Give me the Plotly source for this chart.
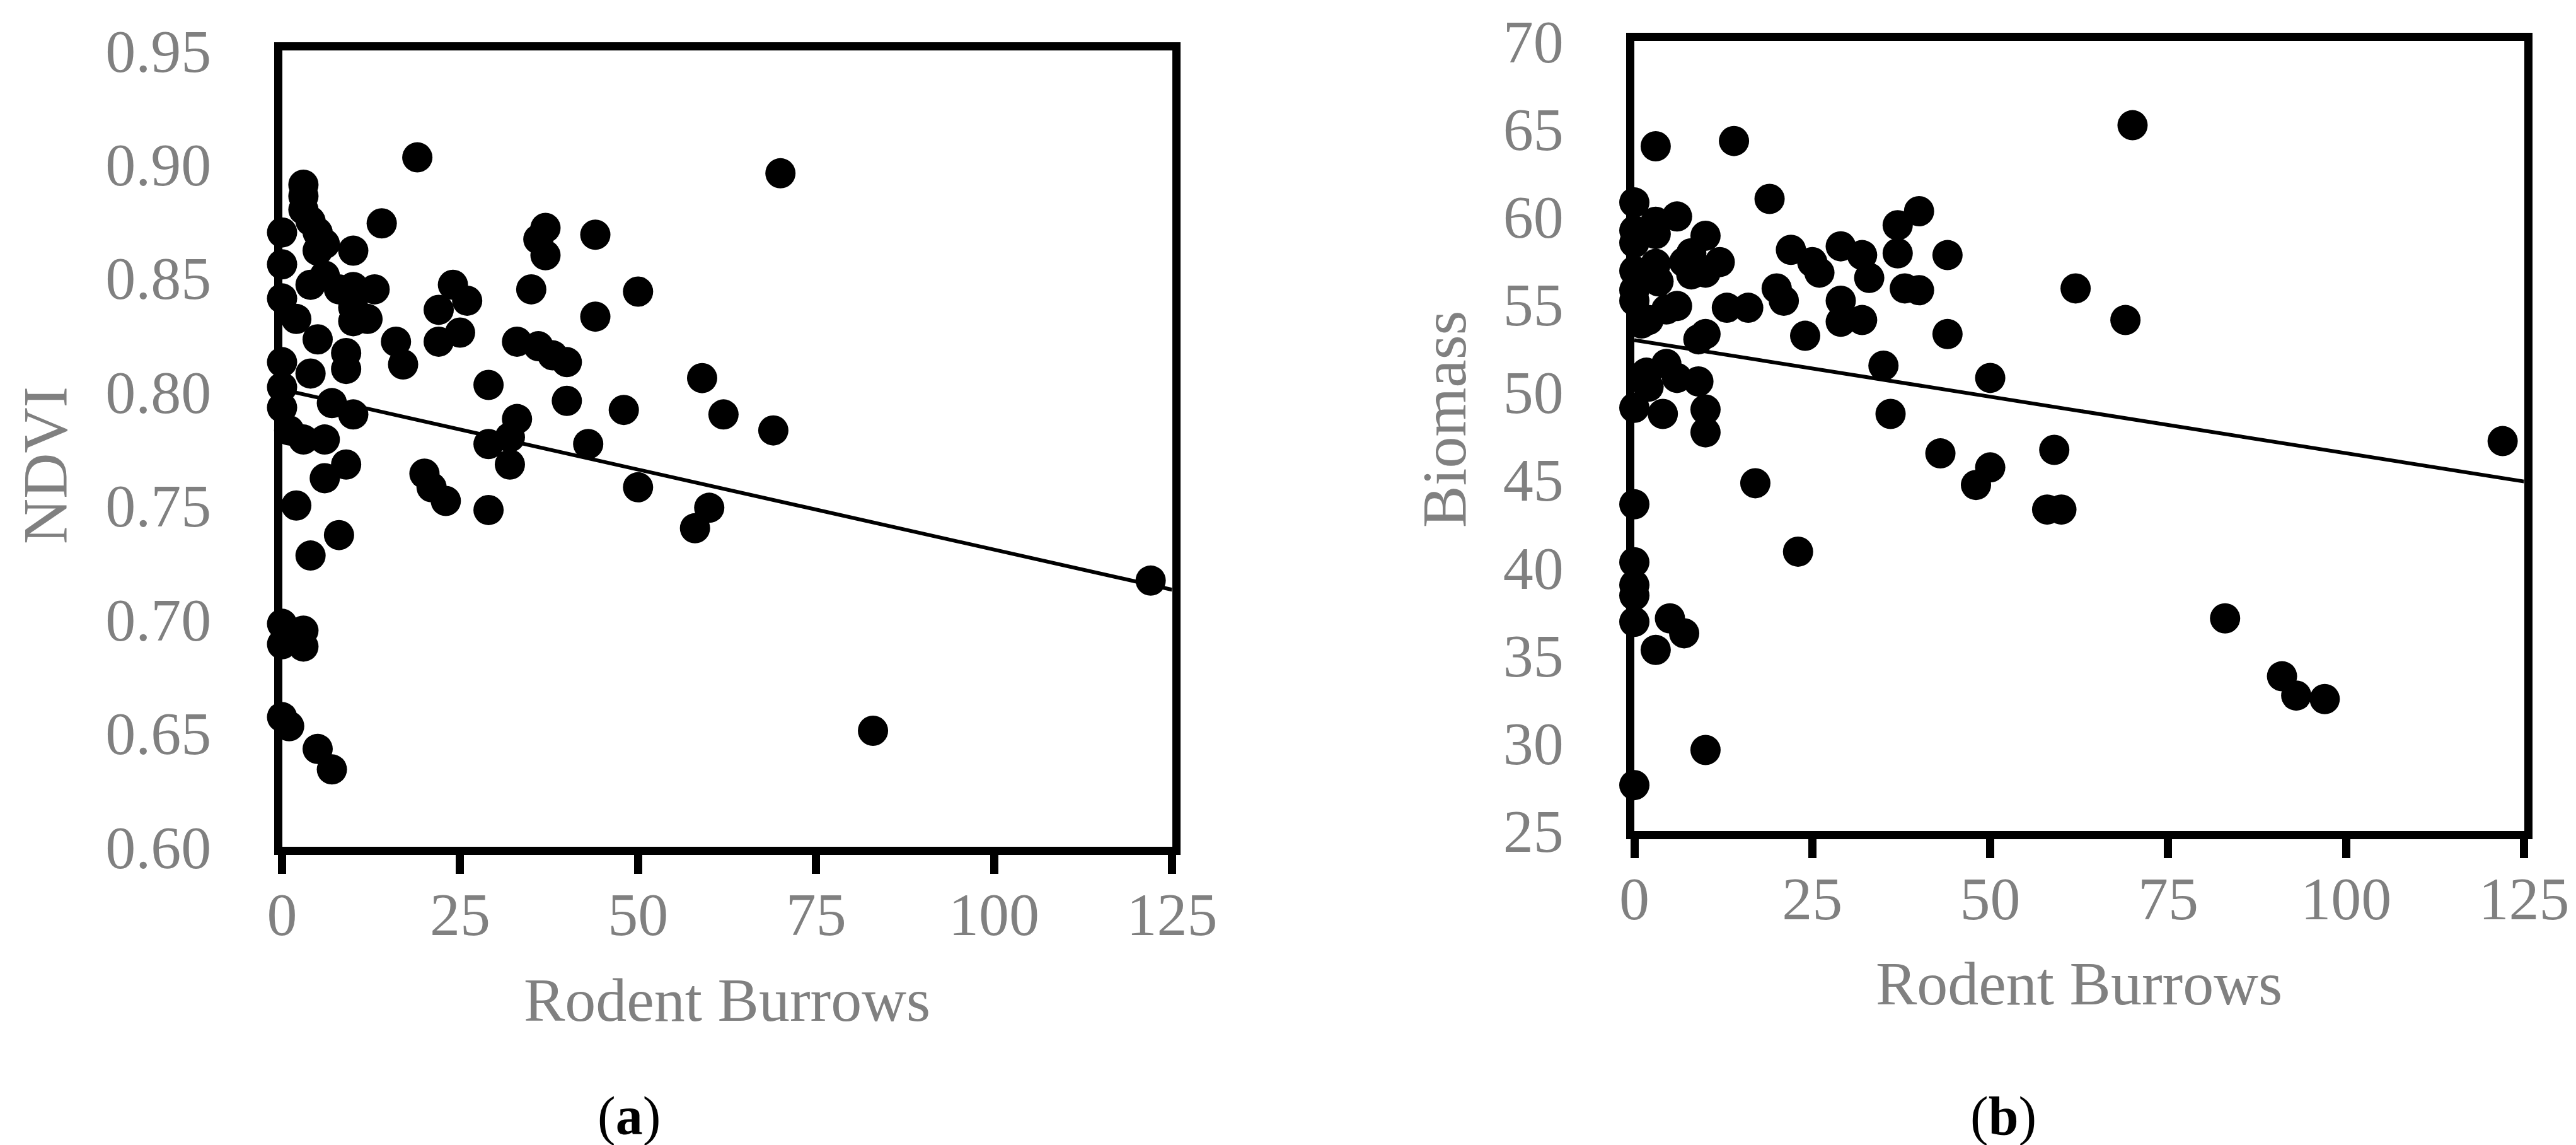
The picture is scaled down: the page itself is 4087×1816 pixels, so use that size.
import plotly.graph_objects as go

# ---------------- data ----------------
ndvi_burrows = [19, 3, 3, 3, 4, 0, 14, 5, 6, 10, 5, 0, 4, 6, 8, 10, 13, 10, 10, 12,
                0, 2, 5, 9, 9, 0, 4, 0, 0, 1, 3, 6, 7, 10, 9, 6, 2, 8, 4, 16,
                17, 24, 26, 22, 22, 25, 20, 21, 23, 29, 29, 33, 29, 32, 32, 33, 35, 36, 37, 37,
                36, 38, 40, 40, 44, 44, 43, 48, 50, 50, 0, 3, 0, 3, 0, 1, 5, 7, 59, 62,
                69, 70, 60, 58, 83, 122]
ndvi_values = [0.903, 0.891, 0.886, 0.880, 0.875, 0.870, 0.874, 0.870, 0.865, 0.862,
               0.862, 0.856, 0.847, 0.851, 0.845, 0.846, 0.845, 0.837, 0.831, 0.832,
               0.841, 0.832, 0.823, 0.817, 0.810, 0.813, 0.808, 0.802, 0.793, 0.783,
               0.779, 0.779, 0.795, 0.790, 0.768, 0.762, 0.750, 0.737, 0.728, 0.822,
               0.812, 0.847, 0.840, 0.836, 0.822, 0.826, 0.764, 0.758, 0.752, 0.748,
               0.803, 0.788, 0.777, 0.780, 0.768, 0.822, 0.845, 0.867, 0.872, 0.860,
               0.820, 0.816, 0.813, 0.796, 0.869, 0.833, 0.777, 0.792, 0.844, 0.758,
               0.698, 0.695, 0.689, 0.688, 0.657, 0.653, 0.643, 0.634, 0.806, 0.790,
               0.783, 0.896, 0.749, 0.740, 0.651, 0.717]

bio_burrows = [3, 14, 19, 0, 6, 3, 0, 3, 0, 10, 40, 37, 22, 29, 32, 37, 44, 12, 8, 7,
               10, 8, 25, 26, 33, 0, 3, 3.4, 0, 0, 38, 40, 20, 21, 6, 4.5, 13, 16, 29, 29,
               32, 1, 2, 24, 44, 10, 9, 35, 50, 4.5, 1.7, 6, 9, 2, 0, 4, 10, 10, 36, 43,
               50, 48, 17, 0, 23, 0, 0, 0, 0, 5, 7, 3, 10, 0, 70, 62, 69, 59, 58, 60,
               83, 91, 93, 97, 122]
bio_values = [64.0, 64.3, 61.0, 60.8, 60.0, 59.7, 59.2, 59.0, 58.5, 58.9,
              60.3, 59.5, 58.1, 58.3, 57.8, 57.9, 57.8, 57.4, 57.9, 57.4,
              56.8, 56.7, 57.4, 56.8, 56.5, 56.9, 57.3, 56.3, 55.8, 55.2,
              55.9, 55.8, 55.9, 55.2, 54.9, 54.7, 54.8, 54.8, 55.2, 54.0,
              54.1, 53.9, 54.1, 53.2, 53.3, 53.3, 53.0, 51.5, 50.8, 51.6,
              51.1, 50.8, 50.6, 50.3, 49.1, 48.75, 49.0, 47.7, 48.75, 46.5,
              45.7, 44.7, 44.8, 43.6, 40.9, 40.3, 39.0, 38.4, 36.9, 37.1,
              36.25, 35.3, 29.6, 27.6, 65.2, 55.9, 54.1, 46.7, 43.3, 43.3,
              37.1, 33.8, 32.7, 32.5, 47.2]

# linear trend lines (end points)
trend_x = [0, 125]
ndvi_trend = [0.801, 0.713]
bio_trend = [52.95, 44.9]

x_ticks = [0, 25, 50, 75, 100, 125]
ndvi_ticks = [0.60, 0.65, 0.70, 0.75, 0.80, 0.85, 0.90, 0.95]
bio_ticks = [25, 30, 35, 40, 45, 50, 55, 60, 65, 70]

# ---------------- figure ----------------
W, H = 4087, 1816
FONT = "Liberation Serif, Times New Roman, serif"
GRAY = "#808080"

fig = go.Figure()

fig.add_trace(go.Scatter(x=trend_x, y=ndvi_trend, mode="lines",
                         line=dict(color="black", width=6), xaxis="x", yaxis="y",
                         showlegend=False, cliponaxis=False))
fig.add_trace(go.Scatter(x=ndvi_burrows, y=ndvi_values, mode="markers",
                         marker=dict(color="black", size=48, line=dict(width=0)),
                         xaxis="x", yaxis="y", showlegend=False, cliponaxis=False))
fig.add_trace(go.Scatter(x=trend_x, y=bio_trend, mode="lines",
                         line=dict(color="black", width=6), xaxis="x2", yaxis="y2",
                         showlegend=False, cliponaxis=False))
fig.add_trace(go.Scatter(x=bio_burrows, y=bio_values, mode="markers",
                         marker=dict(color="black", size=48, line=dict(width=0)),
                         xaxis="x2", yaxis="y2", showlegend=False, cliponaxis=False))

def xaxis(domain, anchor):
    return dict(domain=domain, anchor=anchor, range=[0, 125], tickvals=x_ticks,
                ticks="outside", ticklen=30, tickwidth=13, tickcolor="black",
                showline=True, linecolor="black", linewidth=13, mirror=True,
                showgrid=False, zeroline=False, ticklabelstandoff=-18,
                automargin=False, ticklabeloverflow="allow",
                tickfont=dict(family=FONT, size=96, color=GRAY))

def yaxis(domain, anchor, rng, ticks, fmt):
    return dict(domain=domain, anchor=anchor, range=rng, tickvals=ticks,
                tickformat=fmt, ticks="", showline=True, linecolor="black",
                linewidth=13, mirror=True, showgrid=False, zeroline=False,
                ticklabelstandoff=80, automargin=False, ticklabeloverflow="allow",
                tickfont=dict(family=FONT, size=96, color=GRAY))

fig.update_layout(
    template="none",
    width=W, height=H,
    margin=dict(l=0, r=0, t=0, b=0, pad=0, autoexpand=False),
    paper_bgcolor="white", plot_bgcolor="white",
    xaxis=xaxis([439.5 / W, 1851.5 / W], "y"),
    yaxis=yaxis([1 - 1335 / H, 1 - 72 / H], "x", [0.60, 0.95], ndvi_ticks, ".2f"),
    xaxis2=xaxis([2585 / W, 3996.5 / W], "y2"),
    yaxis2=yaxis([1 - 1309.5 / H, 1 - 57 / H], "x2", [25, 70], bio_ticks, "d"),
)

def ann(text, x, y, size=96, color=GRAY, angle=0):
    fig.add_annotation(text=text, x=x, y=y, xref="paper", yref="paper",
                       xanchor="center", yanchor="middle", showarrow=False,
                       textangle=angle, font=dict(family=FONT, size=size, color=color))

ann("NDVI", 64 / W, 1 - 730 / H, size=100, angle=-90)
ann("Biomass", 2283 / W, 1 - 657 / H, size=100, angle=-90)
ann("Rodent Burrows", 1145.5 / W, 1 - 1578 / H, size=98)
ann("Rodent Burrows", 3290.75 / W, 1 - 1552 / H, size=98)
ann("(<b>a</b>)", 990 / W, 1 - 1762 / H, size=86, color="black")
ann("(<b>b</b>)", 3170 / W, 1 - 1762 / H, size=86, color="black")

fig.write_html("out.html")
